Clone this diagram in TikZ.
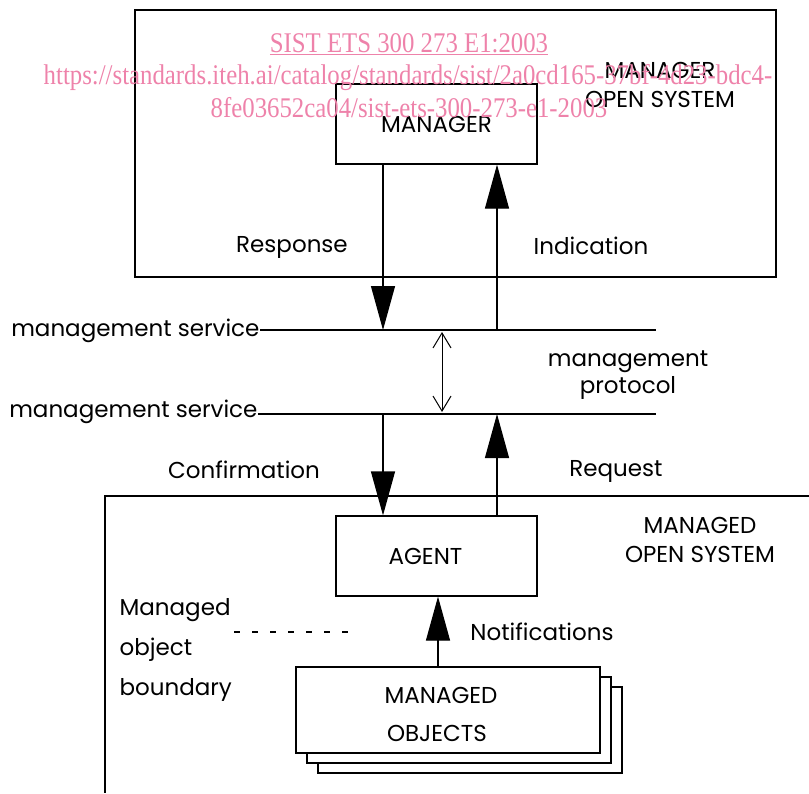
\documentclass[tikz,border=0pt]{standalone}
\usepackage{fontspec}
\setmainfont{Poppins}
\newfontfamily\wmfont[FakeStretch=0.87]{Liberation Serif}
\usetikzlibrary{arrows.meta,shadows}
\definecolor{wmpink}{RGB}{238,130,170}
\tikzset{
    lbl/.style={
        font=\fontsize{23}{29}\selectfont,
        inner sep=0pt,
        align=center
    },
    blk/.style={
        draw,
        fill=white,
        align=center,
        minimum width=201pt,
        minimum height=80pt,
        font=\fontsize{23}{29}\selectfont
    },
    flow/.style={
        -{Triangle[length=44pt,width=24pt]}
    },
    proto/.style={
        {Straight Barb[length=15pt,width=18pt]}-{Straight Barb[length=15pt,width=18pt]},
        line width=1pt,
        shorten >=2pt,
        shorten <=2pt
    },
    wm/.style={
        text=wmpink,
        font=\wmfont\fontsize{28.5}{32}\selectfont,
        inner sep=0pt
    }
}
\begin{document}
\begin{tikzpicture}[x=1pt,y=-1pt,line width=1.2pt]
  \useasboundingbox (0,0) rectangle (809,793);
  % the two open systems
  \draw (135,10) rectangle (776,277);
  \draw (809,496) -- (105,496) -- (105,793);
  \node[lbl] (mgros) at (660,85) {MANAGER\\OPEN SYSTEM};
  \node[lbl] (mgdos) at (700,540) {MANAGED\\OPEN SYSTEM};

  \node[blk] (mgr) at (436.5,124) {MANAGER};
  \node[blk] (agent) at (436.5,556) {\hspace*{-22pt}AGENT};
  \node[blk,minimum width=304pt,minimum height=86pt,
        double copy shadow={shadow xshift=11pt,shadow yshift=-10pt}]
        (objs) at (448,710) {};
  \node[lbl] (objst) at (437,714) {\hspace*{8pt}MANAGED\\[9pt]OBJECTS};

  % service boundaries
  \coordinate (svcA) at (260,330);
  \coordinate (svcB) at (258,414);
  \node[lbl,anchor=base east] (svcAl) at (260,336) {management service};
  \node[lbl,anchor=base east] (svcBl) at (258,417) {management service};
  \draw (svcA) -- (656,330);
  \draw (svcB) -- (656,414);

  \coordinate (dn) at (383,0);
  \coordinate (up) at (497,0);
  \coordinate (nt) at (438,0);
  \coordinate (pr) at (442,0);
  \foreach \s/\t/\c in {mgr.south/svcA/dn, svcA/mgr.south/up,
                        svcB/agent.north/dn, agent.north/svcB/up,
                        objs.north/agent.south/nt}
    \draw[flow] (\s -| \c) -- (\t -| \c);
  \draw[proto] (svcA -| pr) -- (svcB -| pr);

  \node[lbl] (rsp) at (292,247) {Response};
  \node[lbl] (ind) at (591,246) {Indication};
  \node[lbl] (mprot) at (628,375) {management\\[-2pt]protocol};
  \node[lbl] (cnf) at (244,470) {Confirmation};
  \node[lbl] (req) at (616,471) {Request};
  \node[lbl] (ntf) at (542,632) {Notifications};
  \node[lbl,align=left,anchor=west] (mob) at (119,650) {Managed\\[11pt]object\\[11pt]boundary};
  \draw[dash pattern=on 6pt off 12pt] (234,632) -- (352,632);

  \node[wm] (wm1) at (409,44) {\underline{SIST ETS 300 273 E1:2003}};
  \node[wm] (wm2) at (408,78) {https://standards.iteh.ai/catalog/standards/sist/2a0cd165-37bf-4d23-bdc4-};
  \node[wm] (wm3) at (409,108) {8fe03652ca04/sist-ets-300-273-e1-2003};
\end{tikzpicture}
\end{document}
